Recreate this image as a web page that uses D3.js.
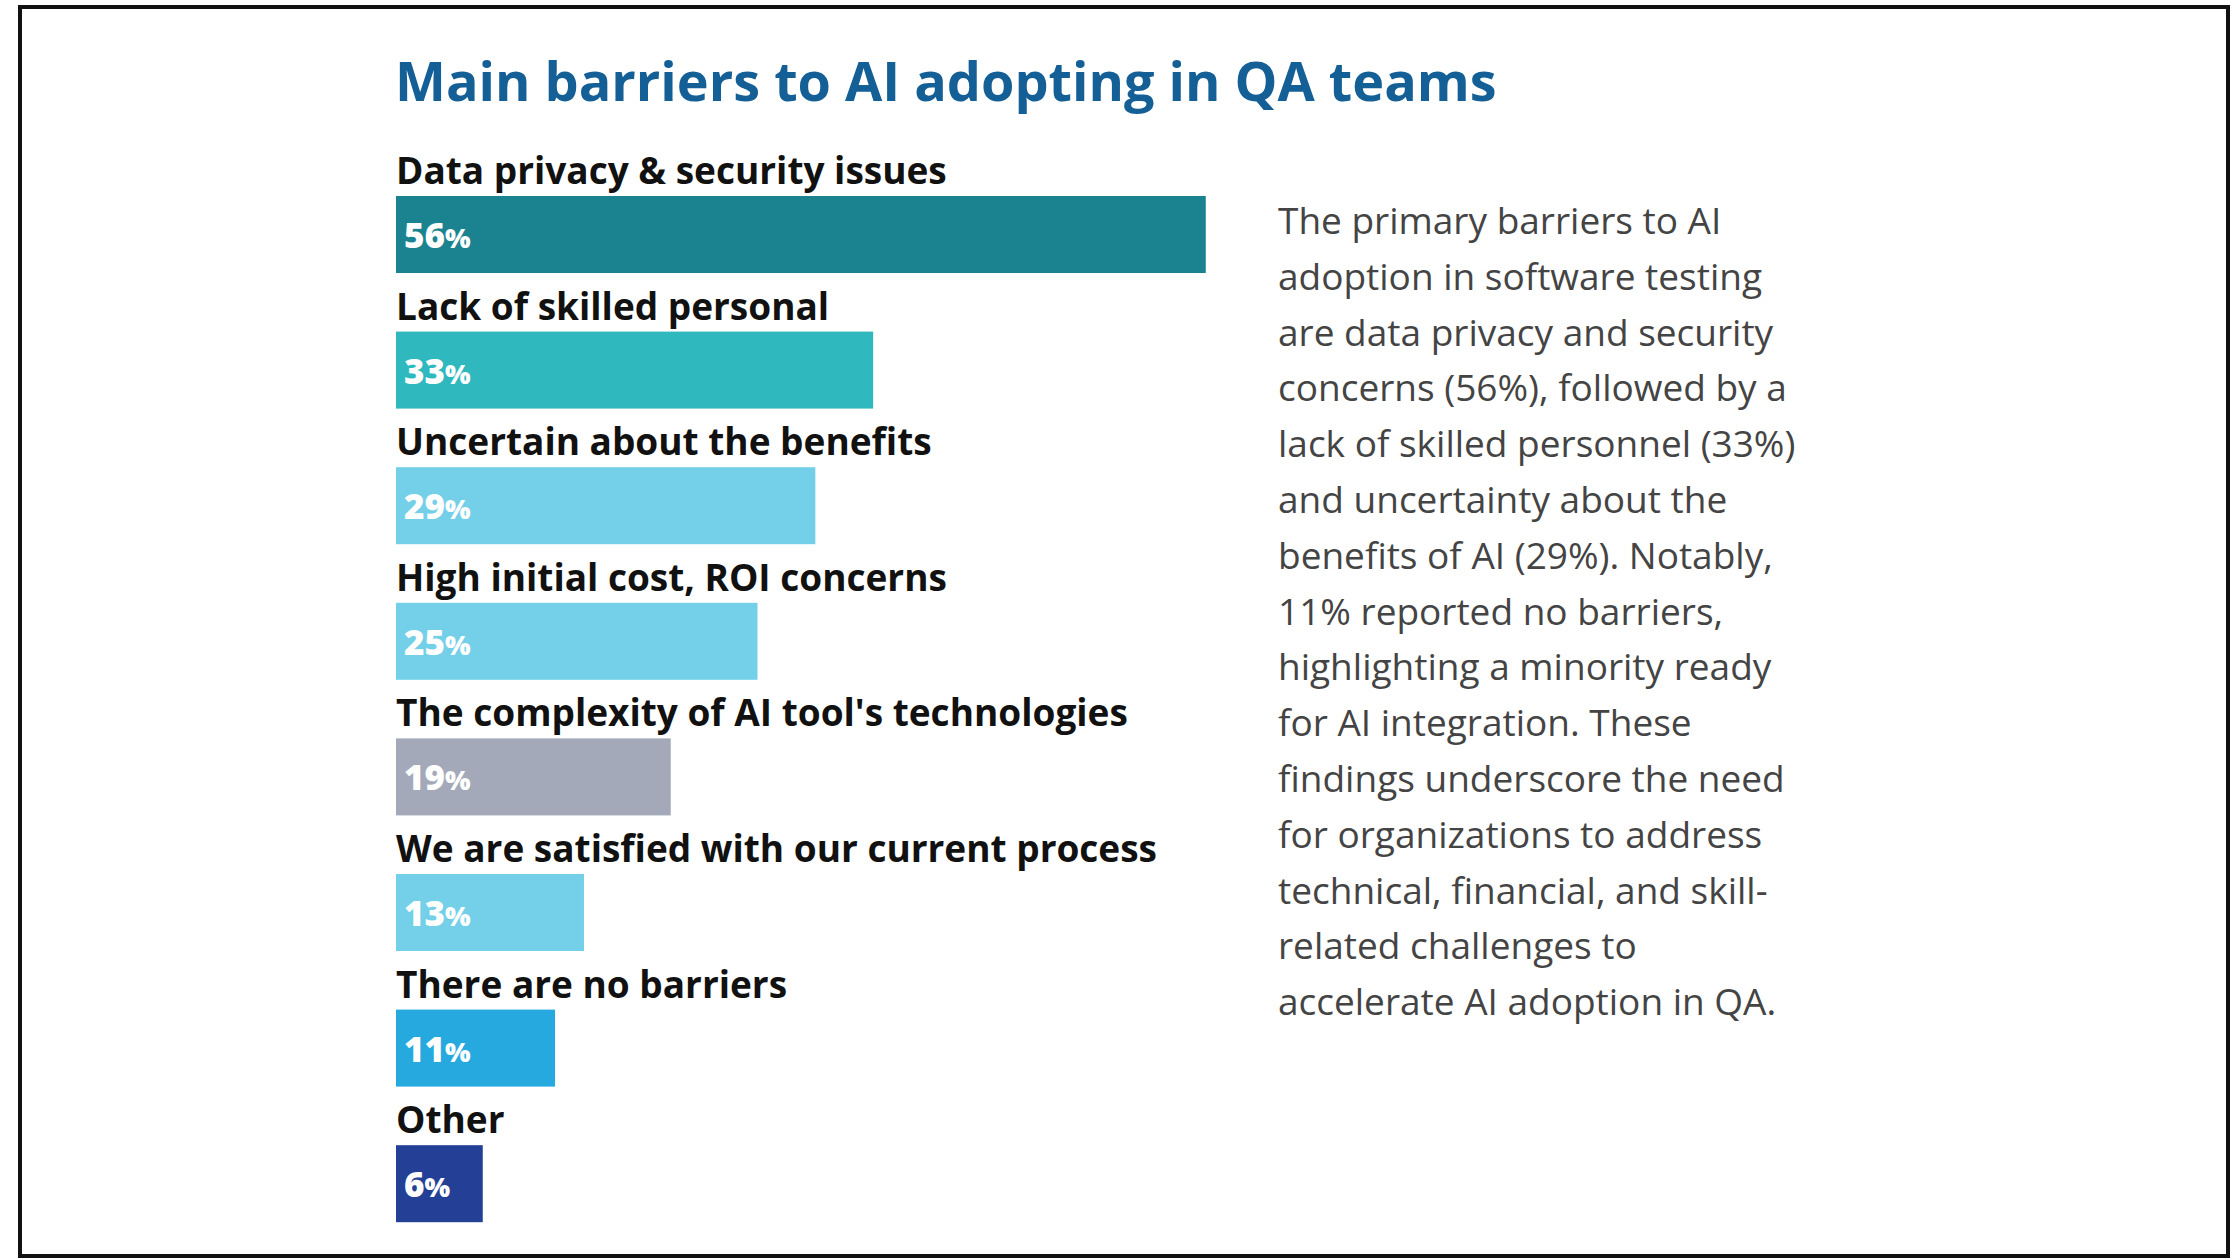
<!DOCTYPE html><html><head><meta charset="utf-8"><script src="https://cdn.jsdelivr.net/npm/d3@7"></script>
<style>body{margin:0;background:#fff}</style></head><body><svg id="c" width="2240" height="1260"></svg><script>
const categories=["Data privacy & security issues","Lack of skilled personal","Uncertain about the benefits","High initial cost, ROI concerns","The complexity of AI tool's technologies","We are satisfied with our current process","There are no barriers","Other"];
const values=[56,33,29,25,19,13,11,6];
const colors=["#1b8390","#2fb8be","#74d0e8","#74d0e8","#a4a9b9","#74d0e8","#26a9df","#243f96"];
const paragraph=["The primary barriers to AI","adoption in software testing","are data privacy and security","concerns (56%), followed by a","lack of skilled personnel (33%)","and uncertainty about the","benefits of AI (29%). Notably,","11% reported no barriers,","highlighting a minority ready","for AI integration. These","findings underscore the need","for organizations to address","technical, financial, and skill-","related challenges to","accelerate AI adoption in QA."];
const svg=d3.select("#c");const F="'Open Sans', sans-serif";
svg.append("rect").attr("x",20).attr("y",7).attr("width",2208).attr("height",1249).attr("fill","none").attr("stroke","#111").attr("stroke-width",4);
svg.append("text").attr("x",395).attr("y",101).attr("font-family",F).attr("font-weight",700).attr("font-size",54).attr("fill","#135f96").text("Main barriers to AI adopting in QA teams");
const x=d3.scaleLinear().domain([0,100]).range([0,1446]);
const y=d3.scaleBand().domain(categories).range([196,196+135.6*8]).paddingInner(0);
const g=svg.selectAll("g.row").data(categories).join("g").attr("transform",d=>`translate(396,${y(d)})`);
g.append("rect").attr("width",(d,i)=>x(values[i])).attr("height",77).attr("fill",(d,i)=>colors[i]);
g.append("text").attr("y",-12).attr("font-family",F).attr("font-weight",700).attr("font-size",37).attr("fill","#111").text(d=>d);
const t=g.append("text").attr("x",8).attr("y",52).attr("font-family",F).attr("font-weight",800).attr("fill","#fff");
t.append("tspan").attr("font-size",35).text((d,i)=>values[i]);
t.append("tspan").attr("font-size",27).text("%");
svg.append("g").selectAll("text").data(paragraph).join("text").attr("x",1278).attr("y",(d,i)=>234+i*55.8).attr("font-family",F).attr("font-size",37).attr("fill","#444").text(d=>d);
</script></body></html>
